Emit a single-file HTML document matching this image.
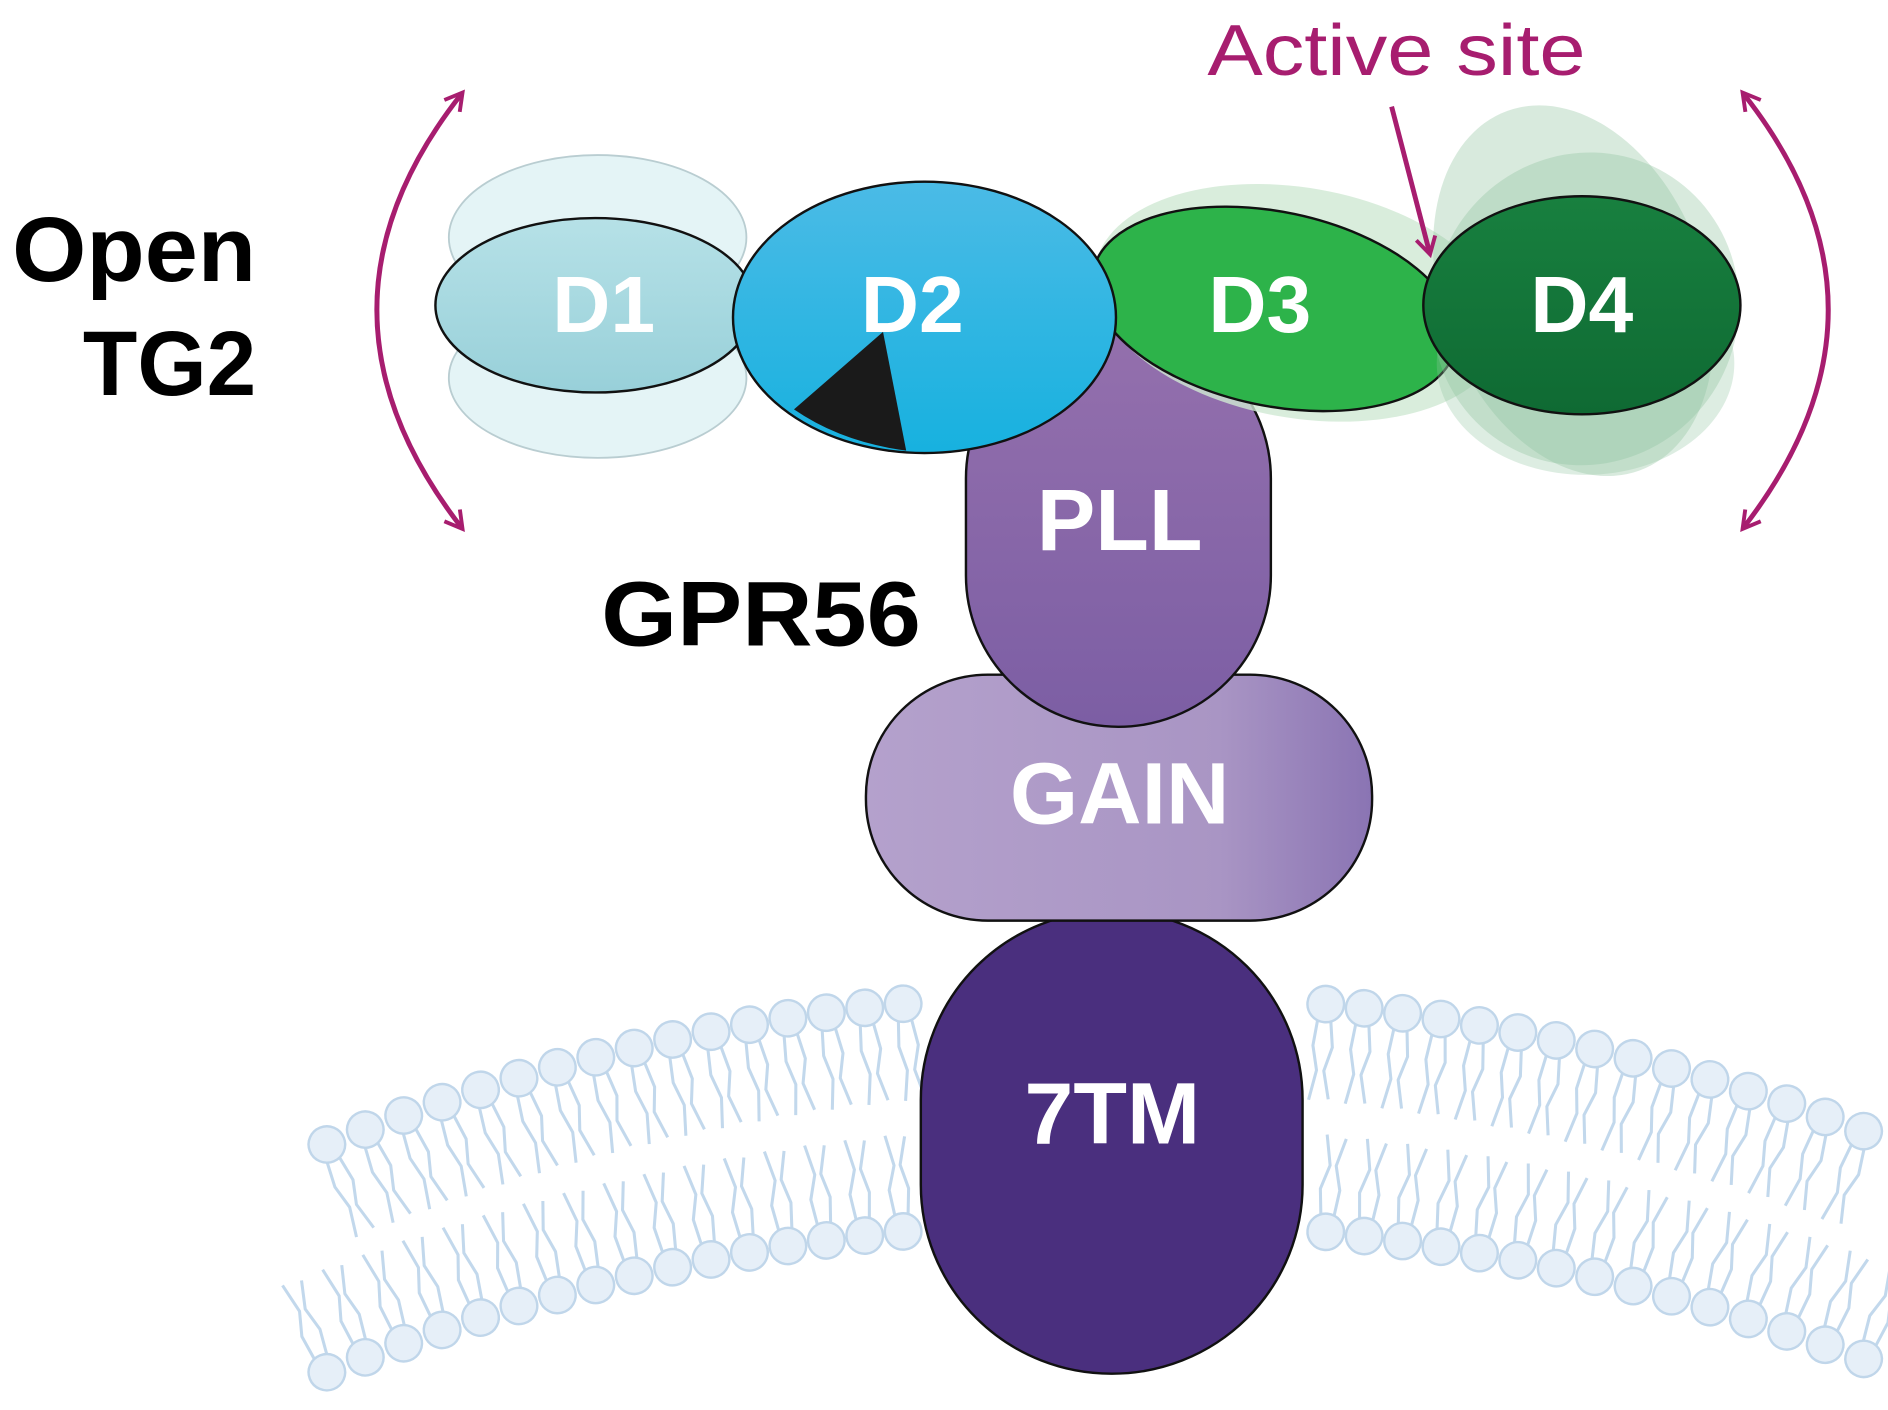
<!DOCTYPE html>
<html><head><meta charset="utf-8"><style>
html,body{margin:0;padding:0;background:#fff;}
svg{display:block;}
text{font-family:"Liberation Sans",sans-serif;}
</style></head><body>
<svg id="s" width="1888" height="1410" viewBox="0 0 1548 1164" preserveAspectRatio="none" xmlns="http://www.w3.org/2000/svg">
<defs>
<marker id="ah" viewBox="0 0 10 10" refX="7" refY="5" markerWidth="5" markerHeight="5" orient="auto-start-reverse" markerUnits="strokeWidth"><path d="M1,1 L8,5 L1,9" fill="none" stroke="#a71d6f" stroke-width="1.6"/></marker>
<linearGradient id="gD1" x1="0" y1="0" x2="0" y2="1"><stop offset="0" stop-color="#b6e1e7"/><stop offset="1" stop-color="#98d0d9"/></linearGradient>
<linearGradient id="gD2" x1="0" y1="0" x2="0" y2="1"><stop offset="0" stop-color="#4bbbe6"/><stop offset="1" stop-color="#17b1df"/></linearGradient>
<linearGradient id="gD4" x1="0" y1="0" x2="0" y2="1"><stop offset="0" stop-color="#18803f"/><stop offset="1" stop-color="#0f6a33"/></linearGradient>
<linearGradient id="gPLL" x1="0" y1="0" x2="0" y2="1"><stop offset="0" stop-color="#9470ad"/><stop offset="1" stop-color="#7c5ea4"/></linearGradient>
<linearGradient id="gGAIN" x1="0" y1="0" x2="1" y2="0"><stop offset="0" stop-color="#b4a1cc"/><stop offset="0.7" stop-color="#a995c4"/><stop offset="1" stop-color="#8a74b3"/></linearGradient>
</defs>
<g id="mem"></g>
<rect x="755" y="752" width="313" height="382" rx="156" ry="156" fill="#4a2f7e" stroke="#111" stroke-width="2"/>
<text x="912" y="944" font-size="72" font-weight="bold" fill="#fff" text-anchor="middle">7TM</text>
<rect x="710" y="557" width="415" height="203" rx="100" ry="100" fill="url(#gGAIN)" stroke="#111" stroke-width="2"/>
<text x="918" y="680" font-size="72" font-weight="bold" fill="#fff" text-anchor="middle">GAIN</text>
<rect x="792" y="270" width="250" height="330" rx="125" ry="125" fill="url(#gPLL)" stroke="#111" stroke-width="2"/>
<text x="918" y="454" font-size="72" font-weight="bold" fill="#fff" text-anchor="middle">PLL</text>
<ellipse cx="490" cy="196" rx="122" ry="68" fill="#e4f4f6" stroke="#b9cdd1" stroke-width="1.5"/>
<ellipse cx="490" cy="312" rx="122" ry="66" fill="#e4f4f6" stroke="#b9cdd1" stroke-width="1.5"/>
<ellipse cx="488" cy="252" rx="131" ry="72" fill="url(#gD1)" stroke="#111" stroke-width="2"/>
<text x="495" y="274" font-size="66" font-weight="bold" fill="#fff" text-anchor="middle">D1</text>
<ellipse cx="1065" cy="250" rx="170" ry="95" transform="rotate(10 1065 250)" fill="#cfe8d3" opacity="0.8"/>
<ellipse cx="1045" cy="255" rx="152" ry="80" transform="rotate(12 1045 255)" fill="#2db34a" stroke="#111" stroke-width="2"/>
<text x="1033" y="274" font-size="66" font-weight="bold" fill="#fff" text-anchor="middle">D3</text>
<ellipse cx="1290" cy="240" rx="108" ry="158" transform="rotate(-20 1290 240)" fill="#8fc39f" opacity="0.35"/>
<ellipse cx="1300" cy="255" rx="125" ry="130" transform="rotate(25 1300 255)" fill="#8fc39f" opacity="0.35"/>
<ellipse cx="1300" cy="300" rx="122" ry="92" fill="#8fc39f" opacity="0.3"/>
<ellipse cx="1297" cy="252" rx="130" ry="90" fill="url(#gD4)" stroke="#111" stroke-width="2"/>
<text x="1297" y="274" font-size="66" font-weight="bold" fill="#fff" text-anchor="middle">D4</text>
<ellipse cx="758" cy="262" rx="157" ry="112" fill="url(#gD2)" stroke="#111" stroke-width="2"/>
<path d="M724,274 L651,338 Q690,365 743,372 Z" fill="#1a1a1a"/>
<text x="748" y="274" font-size="66" font-weight="bold" fill="#fff" text-anchor="middle">D2</text>
<path d="M378,78 Q240,255 378,435" fill="none" stroke="#a71d6f" stroke-width="4" marker-start="url(#ah)" marker-end="url(#ah)"/>
<path d="M1430,78 Q1568,255 1430,435" fill="none" stroke="#a71d6f" stroke-width="4" marker-start="url(#ah)" marker-end="url(#ah)"/>
<path d="M1141,88 L1172,208" fill="none" stroke="#a71d6f" stroke-width="4" marker-end="url(#ah)"/>
<text x="990" y="62" font-size="60" fill="#a71d6f" textLength="310" lengthAdjust="spacingAndGlyphs">Active site</text>
<text x="10" y="232" font-size="76" font-weight="bold" fill="#000" textLength="200" lengthAdjust="spacingAndGlyphs">Open</text>
<text x="68" y="326" font-size="76" font-weight="bold" fill="#000" textLength="142" lengthAdjust="spacingAndGlyphs">TG2</text>
<text x="493" y="533" font-size="76" font-weight="bold" fill="#000" textLength="262" lengthAdjust="spacingAndGlyphs">GPR56</text>
</svg>
<script>
(function(){
var g=document.getElementById('mem'),h='';
var R=1724,cx=912,cy=2544;
for(var x=268;x<=1545;x+=31.5){
 if(x>745&&x<1078)continue;
 var dx=x-cx,s=Math.sqrt(R*R-dx*dx),y=cy-s,a=Math.atan2(dx,s)*180/Math.PI;
 h+='<g transform="translate('+x.toFixed(1)+','+y.toFixed(1)+') rotate('+a.toFixed(2)+')">';
 h+='<polyline points="-5,10 -7,35 -2,55 -6,80" fill="none" stroke="#c2d8ec" stroke-width="2.5"/>';
 h+='<polyline points="5,10 9,35 4,55 10,78" fill="none" stroke="#c2d8ec" stroke-width="2.5"/>';
 h+='<circle cx="0" cy="0" r="15" fill="#e6eff8" stroke="#c0d6ea" stroke-width="2"/></g>';
 var y2=y+188;
 h+='<g transform="translate('+x.toFixed(1)+','+y2.toFixed(1)+') rotate('+a.toFixed(2)+')">';
 h+='<polyline points="-5,-10 -8,-35 -2,-55 -7,-80" fill="none" stroke="#c2d8ec" stroke-width="2.5"/>';
 h+='<polyline points="5,-10 8,-35 3,-55 9,-78" fill="none" stroke="#c2d8ec" stroke-width="2.5"/>';
 h+='<circle cx="0" cy="0" r="15" fill="#e6eff8" stroke="#c0d6ea" stroke-width="2"/></g>';
}
g.innerHTML=h;
})();
</script>
</body></html>
